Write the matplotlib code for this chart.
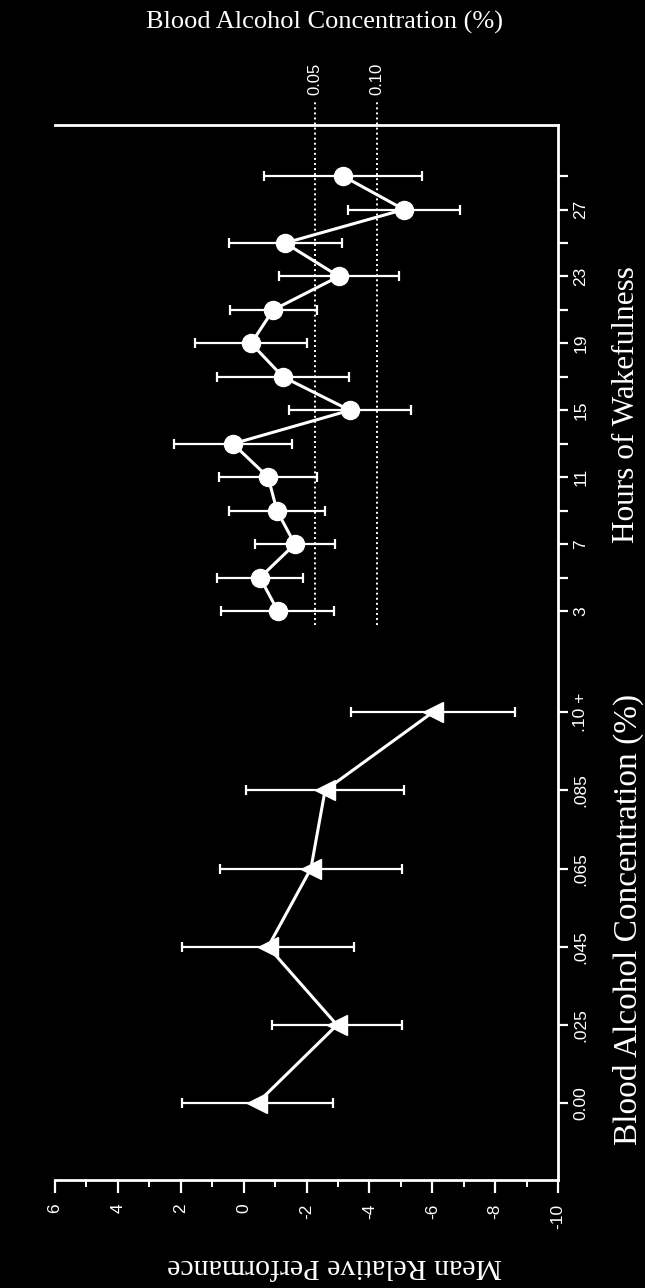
import matplotlib.pyplot as plt
import numpy as np

plt.rcParams['font.family'] = ['Liberation Sans', 'DejaVu Sans']

# hours of wakefulness condition
hours = [3, 5, 7, 9, 11, 13, 15, 17, 19, 21, 23, 25, 27, 29]
hours_perf = [-1.09, -0.52, -1.63, -1.06, -0.78, 0.34, -3.38, -1.25, -0.24, -0.94, -3.03, -1.32, -5.1, -3.16]
hours_err = [1.8, 1.37, 1.27, 1.52, 1.56, 1.87, 1.95, 2.1, 1.78, 1.38, 1.9, 1.8, 1.78, 2.5]

# alcohol condition
bac_labels = ['0.00', '.025', '.045', '.065', '.085', '.10 +']
bac_perf = [-0.43, -2.97, -0.78, -2.14, -2.59, -6.02]
bac_err = [2.4, 2.07, 2.73, 2.9, 2.5, 2.6]

# BAC equivalent reference lines
ref_labels = ['0.05', '0.10']
ref_perf = [-2.27, -4.24]

perf_ticks = [6, 4, 2, 0, -2, -4, -6, -8, -10]
hour_ticks = [3, 7, 11, 15, 19, 23, 27]
hour_minor = [5, 9, 13, 17, 21, 25, 29]

W, H = 645, 1288
fig = plt.figure(figsize=(W / 100, H / 100), dpi=100, facecolor='black')
ax = fig.add_axes([55 / W, 1 - 1180 / H, 503 / W, 1055 / H], facecolor='black')

ax.set_xlim(6, -10)
ax.set_ylim(-31.0, 32.05)

# BAC categories sit below the hours on the same (rotated) axis
bac_pos = -26.41 + 4.674 * np.arange(len(bac_labels))

ax.errorbar(hours_perf, hours, xerr=hours_err, fmt='none', ecolor='white',
            elinewidth=1.6, capsize=3.5, capthick=1.6, zorder=2)
ax.plot(hours_perf, hours, '-o', color='white', lw=2.2, ms=13, zorder=3)

ax.errorbar(bac_perf, bac_pos, xerr=bac_err, fmt='none', ecolor='white',
            elinewidth=1.6, capsize=3.5, capthick=1.6, zorder=2)
ax.plot(bac_perf, bac_pos, '-<', color='white', lw=2.2, ms=14, zorder=3)

for lab, p in zip(ref_labels, ref_perf):
    ax.plot([p, p], [2.16, 33.4], color='white', lw=1.4, ls=(0, (1, 1.6)),
            clip_on=False, zorder=1)
    ax.text(p, 34.8, lab, rotation=90, ha='center', va='center',
            color='white', fontsize=12)

# x axis (performance) at the bottom
ax.set_xticks(perf_ticks)
ax.set_xticklabels([str(v) for v in perf_ticks])
ax.set_xticks(np.arange(5, -10, -2), minor=True)
ax.tick_params(axis='x', which='major', direction='out', length=9, width=1.6,
               colors='white', labelsize=12.5, pad=8, labelrotation=90)
ax.tick_params(axis='x', which='minor', direction='out', length=5, width=1.4,
               colors='white')

# y axis (conditions) on the right
ax.yaxis.tick_right()
ax.set_yticks(list(bac_pos) + hour_ticks)
ax.set_yticklabels(bac_labels + [str(h) for h in hour_ticks])
ax.set_yticks(hour_minor, minor=True)
ax.tick_params(axis='y', which='both', direction='out', length=7, width=1.6,
               colors='white', labelsize=12.5, pad=4, labelrotation=90)
for t in ax.get_yticklabels():
    t.set_va('center')

ax.spines['left'].set_visible(False)
for s in ['top', 'right', 'bottom']:
    ax.spines[s].set_color('white')
    ax.spines[s].set_linewidth(2)

serif = ['Liberation Serif', 'DejaVu Serif']
fig.text(324 / W, 1 - 22 / H, 'Blood Alcohol Concentration (%)', family=serif,
         fontsize=19, color='white', ha='center', va='center')
fig.text(627 / W, 1 - 405 / H, 'Hours of Wakefulness', family=serif, rotation=90,
         fontsize=22.5, color='white', ha='center', va='center')
fig.text(628 / W, 1 - 919 / H, 'Blood Alcohol Concentration (%)', family=serif,
         rotation=90, fontsize=24, color='white', ha='center', va='center')
fig.text(335 / W, 1 - 1266 / H, 'Mean Relative Performance', family=serif,
         rotation=180, fontsize=21.5, color='white', ha='center', va='center')

fig.savefig('out.png', dpi=100, facecolor='black')
